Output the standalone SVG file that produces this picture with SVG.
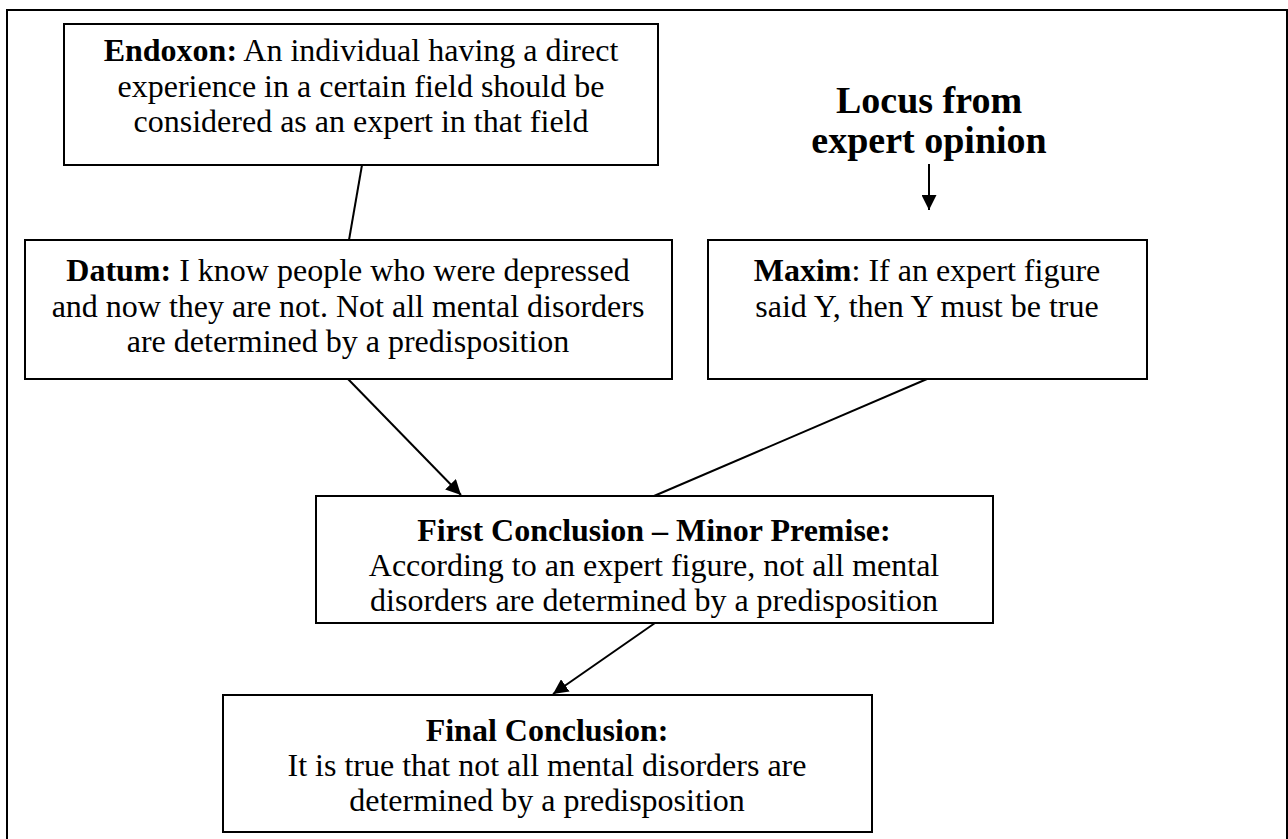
<svg xmlns="http://www.w3.org/2000/svg" width="1288" height="839" viewBox="0 0 1288 839">
<defs>
<style>
.box{fill:#fff;stroke:#000;stroke-width:2}
.t{font-family:"Liberation Serif","Times New Roman",serif;font-size:32px;fill:#000;text-anchor:middle}
.b{font-weight:bold}
.loc{font-family:"Liberation Serif","Times New Roman",serif;font-size:38px;font-weight:bold;fill:#000;text-anchor:middle}
.c{stroke:#000;stroke-width:2;fill:none}
</style>
<marker id="ah" viewBox="0 0 15 15" refX="15" refY="7.5" markerWidth="15" markerHeight="15" markerUnits="userSpaceOnUse" orient="auto">
<path d="M0,0 L15,7.5 L0,15 Z" fill="#000"/>
</marker>
</defs>
<rect x="0" y="0" width="1288" height="839" fill="#fff"/>
<rect x="7" y="10" width="1280" height="840" fill="none" stroke="#000" stroke-width="2"/>
<g id="connectors">
<line class="c" x1="362" y1="165" x2="349" y2="240"/>
<line class="c" x1="929" y1="164" x2="929" y2="210" marker-end="url(#ah)"/>
<line class="c" x1="348" y1="379" x2="461" y2="495" marker-end="url(#ah)"/>
<line class="c" x1="927" y1="379" x2="654" y2="496"/>
<line class="c" x1="655" y1="623" x2="553" y2="694" marker-end="url(#ah)"/>
</g>
<g id="endoxon">
<rect class="box" x="64" y="24" width="594" height="141"/>
<text class="t" x="361" y="61"><tspan class="b">Endoxon:</tspan> An individual having a direct</text>
<text class="t" x="361" y="97">experience in a certain field should be</text>
<text class="t" x="361" y="132">considered as an expert in that field</text>
</g>
<g id="locus">
<text class="loc" x="929" y="113">Locus from</text>
<text class="loc" x="929" y="153">expert opinion</text>
</g>
<g id="datum">
<rect class="box" x="25" y="240" width="647" height="139"/>
<text class="t" x="348" y="281"><tspan class="b">Datum:</tspan> I know people who were depressed</text>
<text class="t" x="348" y="317">and now they are not. Not all mental disorders</text>
<text class="t" x="348" y="352">are determined by a predisposition</text>
</g>
<g id="maxim">
<rect class="box" x="708" y="240" width="439" height="139"/>
<text class="t" x="927" y="281"><tspan class="b">Maxim</tspan>: If an expert figure</text>
<text class="t" x="927" y="317">said Y, then Y must be true</text>
</g>
<g id="first">
<rect class="box" x="316" y="496" width="677" height="127"/>
<text class="t b" x="654" y="541">First Conclusion – Minor Premise:</text>
<text class="t" x="654" y="576">According to an expert figure, not all mental</text>
<text class="t" x="654" y="611">disorders are determined by a predisposition</text>
</g>
<g id="final">
<rect class="box" x="223" y="695" width="649" height="137"/>
<text class="t b" x="547" y="741">Final Conclusion:</text>
<text class="t" x="547" y="776">It is true that not all mental disorders are</text>
<text class="t" x="547" y="811">determined by a predisposition</text>
</g>
</svg>
